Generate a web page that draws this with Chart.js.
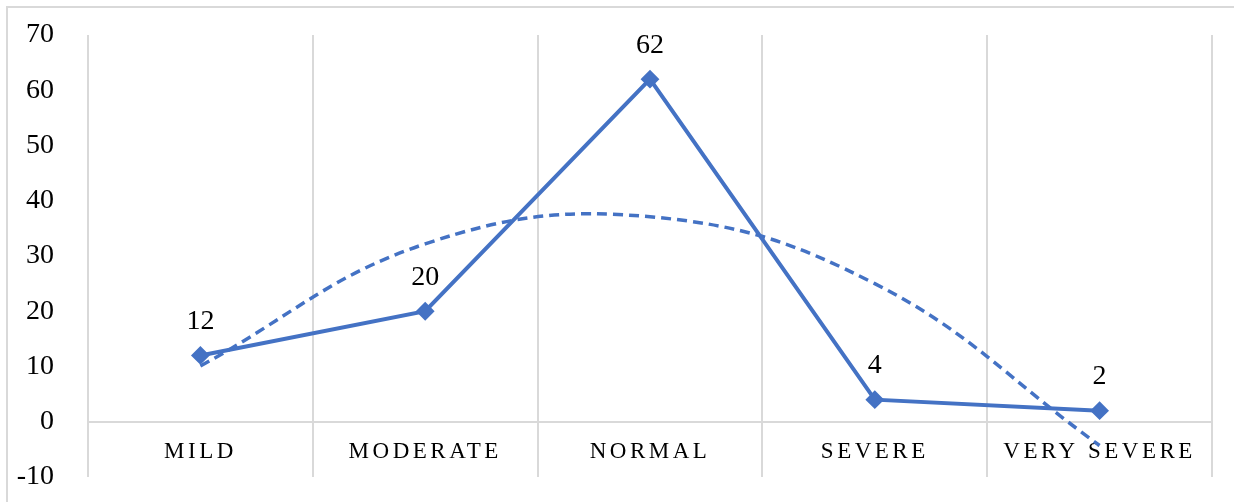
<!DOCTYPE html>
<html>
<head>
<meta charset="utf-8">
<script src="https://cdn.jsdelivr.net/npm/chart.js@4.4.0/dist/chart.umd.min.js"></script>
<style>
  body { margin: 0; background: #fff; }
  #wrap { position: relative; width: 1234px; height: 502px; }
  #frame { position: absolute; left: 6px; top: 6px; right: -10px; bottom: -10px; border-top: 2px solid #d9d9d9; border-left: 2px solid #d9d9d9; }
  canvas { position: absolute; left: 0; top: 0; }
</style>
</head>
<body>
<div id="wrap">
  <div id="frame"></div>
  <canvas id="myChart"></canvas>
</div>
<script>
// categories and values
const categories = ['MILD', 'MODERATE', 'NORMAL', 'SEVERE', 'VERY SEVERE'];
const values = [12, 20, 62, 4, 2];
// dashed trend line, read at each category
const trendValues = [10.1, 32.2, 37.1, 25.0, -4.3];
const yTicks = [-10, 0, 10, 20, 30, 40, 50, 60, 70];

const blue = '#4472C4';
const grey = '#d9d9d9';
const serif = '"Liberation Serif", "Times New Roman", serif';

// number over each point
const valueLabels = {
  id: 'valueLabels',
  afterDatasetsDraw(chart) {
    const ctx = chart.ctx;
    const meta = chart.getDatasetMeta(0);
    ctx.save();
    ctx.font = '28px ' + serif;
    ctx.fillStyle = '#000';
    ctx.textAlign = 'center';
    ctx.textBaseline = 'middle';
    meta.data.forEach((pt, i) => {
      ctx.fillText(values[i], pt.x, pt.y - 34);
    });
    ctx.restore();
  }
};

// the category names are letter spaced
const spacedLabels = {
  id: 'spacedLabels',
  beforeDraw(chart) {
    const x = chart.scales.x;
    if (x._spaced) return;
    const draw = x.drawLabels.bind(x);
    x.drawLabels = area => {
      chart.ctx.save();
      chart.ctx.letterSpacing = '3.5px';
      draw(area);
      chart.ctx.restore();
    };
    x._spaced = true;
  }
};

const ctx = document.getElementById('myChart').getContext('2d');
const myChart = new Chart(ctx, {
  type: 'line',
  data: {
    labels: categories,
    datasets: [{
      data: values,
      borderColor: blue,
      backgroundColor: blue,
      borderWidth: 4,
      pointStyle: 'rectRot',
      pointRadius: 8,
      pointBorderWidth: 2,
      tension: 0,
      order: 0
    }, {
      data: trendValues,
      borderColor: blue,
      borderWidth: 3.5,
      borderDash: [10, 6],
      pointRadius: 0,
      tension: 0.4,
      order: 1
    }]
  },
  plugins: [valueLabels, spacedLabels],
  options: {
    responsive: true,
    maintainAspectRatio: false,
    animation: false,
    layout: { padding: { top: 35, right: 22, bottom: 25, left: 0 } },
    plugins: { legend: { display: false }, tooltip: { enabled: false } },
    scales: {
      x: {
        type: 'category',
        position: { y: 0 },
        offset: true,
        afterFit(scale) {
          scale.height = 0;
          scale.paddingLeft = scale.paddingRight = scale.paddingTop = scale.paddingBottom = 0;
        },
        grid: { offset: true, color: grey, lineWidth: 2, drawTicks: false },
        border: { color: grey, width: 2 },
        ticks: { color: '#000', font: { family: serif, size: 23 }, padding: 16, maxRotation: 0, autoSkip: false }
      },
      y: {
        min: -10,
        max: 70,
        afterFit(scale) {
          scale.width = 88;
          scale.paddingTop = scale.paddingBottom = 0;
        },
        afterBuildTicks(scale) { scale.ticks = yTicks.map(v => ({ value: v })); },
        grid: { display: false },
        border: { display: false },
        ticks: { color: '#000', font: { family: serif, size: 28 }, padding: 26 }
      }
    }
  }
});
</script>
</body>
</html>
